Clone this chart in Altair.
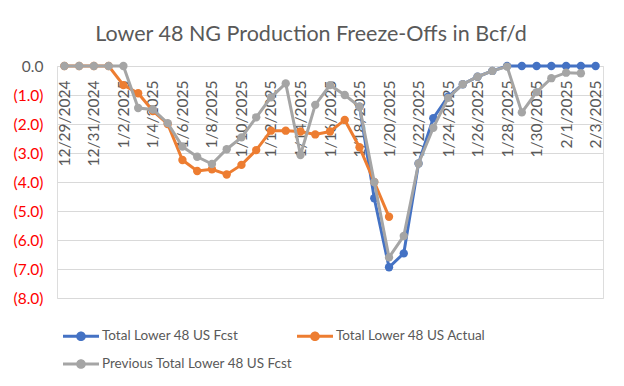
import altair as alt
import pandas as pd

dates = ["12/29/2024", "12/30/2024", "12/31/2024", "1/1/2025", "1/2/2025", "1/3/2025",
         "1/4/2025", "1/5/2025", "1/6/2025", "1/7/2025", "1/8/2025", "1/9/2025",
         "1/10/2025", "1/11/2025", "1/12/2025", "1/13/2025", "1/14/2025", "1/15/2025",
         "1/16/2025", "1/17/2025", "1/18/2025", "1/19/2025", "1/20/2025", "1/21/2025",
         "1/22/2025", "1/23/2025", "1/24/2025", "1/25/2025", "1/26/2025", "1/27/2025",
         "1/28/2025", "1/29/2025", "1/30/2025", "1/31/2025", "2/1/2025", "2/2/2025",
         "2/3/2025"]

series_names = ["Total Lower 48 US Fcst", "Total Lower 48 US Actual",
                "Previous Total Lower 48 US Fcst"]
series_colors = ["#4472C4", "#ED7D31", "#A5A5A5"]

fcst = [None] * 20 + [-1.4, -4.56, -6.94, -6.46, -3.36, -1.8, -1.06, -0.63, -0.37,
                      -0.17, 0.0, 0.0, 0.0, 0.0, 0.0, 0.0, 0.0]
actual = [0.0, 0.0, 0.0, 0.0, -0.66, -0.94, -1.55, -2.0, -3.24, -3.62, -3.56, -3.74,
          -3.41, -2.9, -2.23, -2.23, -2.26, -2.36, -2.26, -1.86, -2.8, -4.0, -5.2] + [None] * 14
previous = [0.0, 0.0, 0.0, 0.0, 0.0, -1.45, -1.5, -1.97, -2.78, -3.13, -3.38, -2.87,
            -2.46, -1.77, -1.08, -0.6, -3.07, -1.34, -0.66, -1.0, -1.4, -4.0, -6.6,
            -5.86, -3.36, -2.13, -1.1, -0.63, -0.37, -0.17, -0.02, -1.6, -0.9, -0.42,
            -0.23, -0.25, None]

y_ticks = [-8, -7, -6, -5, -4, -3, -2, -1, 0]

rows = []
for name, vals in zip(series_names, [fcst, actual, previous]):
    for d, v in zip(dates, vals):
        if v is not None:
            rows.append({"date": d, "series": name, "value": v})
df = pd.DataFrame(rows)

W, H = 546, 232
FONT = "Lato"
GRAY = "#595959"
AXFS = 15.5
LGFS = 13.5

legend_path = ("M -1 -0.085 L 1 -0.085 L 1 0.085 L -1 0.085 Z "
               "M 0.27 0 A 0.27 0.27 0 1 1 -0.27 0 A 0.27 0.27 0 1 1 0.27 0 Z")

color = alt.Color(
    "series:N",
    scale=alt.Scale(domain=series_names, range=series_colors),
    legend=alt.Legend(
        title=None, orient="none", legendX=6, legendY=252, columns=2,
        direction="horizontal",
        symbolType=legend_path, symbolSize=1296, symbolStrokeWidth=0,
        labelFontSize=LGFS, labelColor=GRAY, labelFont=FONT,
        columnPadding=4, rowPadding=3, labelOffset=3, labelLimit=300,
    ),
)

x = alt.X(
    "date:N", sort=dates,
    scale=alt.Scale(type="point", padding=0.5),
    axis=alt.Axis(
        values=dates[::2], labelAngle=-90, orient="bottom", offset=-H,
        grid=False, domain=False, ticks=False, labelPadding=14,
        labelFontSize=AXFS, labelColor=GRAY, labelFont=FONT, title=None,
    ),
)
y = alt.Y(
    "value:Q",
    scale=alt.Scale(domain=[-8, 0], nice=False),
    axis=alt.Axis(
        values=y_ticks, grid=True, gridColor="#D9D9D9", gridWidth=1,
        domain=False, ticks=False, labelPadding=14, labelFontSize=AXFS,
        labelFont=FONT, title=None,
        labelExpr="datum.value < 0 ? '(' + format(-datum.value, '.1f') + ')' : format(datum.value, '.1f')",
        labelColor={"condition": {"test": "datum.value < 0", "value": "#FF0000"}, "value": GRAY},
    ),
)

layers = []
for name in series_names:
    layers.append(
        alt.Chart(df)
        .transform_filter(alt.datum.series == name)
        .mark_line(strokeWidth=3, point=alt.OverlayMarkDef(filled=True, size=70))
        .encode(x=x, y=y, color=color)
    )

chart = (
    alt.layer(*layers)
    .properties(
        width=W, height=H,
        title=alt.TitleParams(
            "Lower 48 NG Production Freeze-Offs in Bcf/d", fontSize=21.5, font=FONT,
            color=GRAY, fontWeight="normal", anchor="middle", dx=-19, offset=14,
        ),
        autosize=alt.AutoSizeParams(type="none"),
        padding={"left": 49, "top": 58, "right": 13, "bottom": 80},
    )
    .configure_view(stroke=None)
    .configure(font=FONT)
)

chart.save("out.html", embed_options={"renderer": "svg", "actions": False})
